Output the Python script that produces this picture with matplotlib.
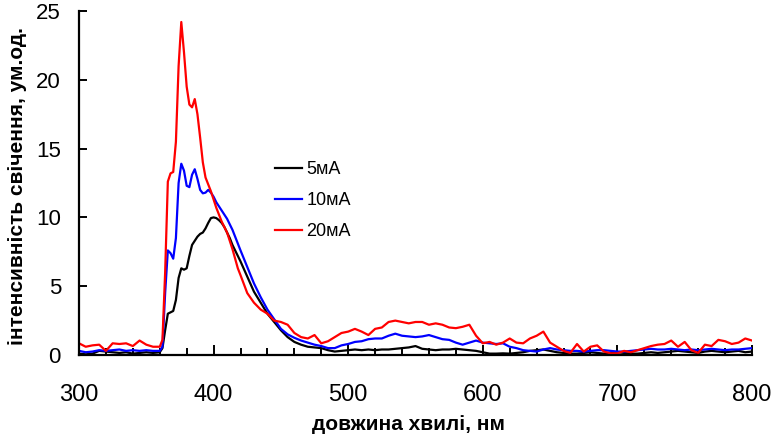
import matplotlib
matplotlib.use("Agg")
import matplotlib.pyplot as plt
from matplotlib import font_manager

# ---------------- data ----------------
wavelength = [300, 305, 310, 315, 320, 325, 330, 335, 340, 345, 350, 355,
              360, 362, 364, 366, 368, 370, 372, 374, 376, 378, 380, 382, 384, 386, 388,
              390, 392, 394, 396, 398, 400, 402, 404, 406, 408, 410, 412, 414, 416, 418,
              420, 425, 430, 435, 440, 445, 450, 455, 460, 465, 470, 475, 480, 485, 490,
              495, 500, 505, 510, 515, 520, 525, 530, 535, 540, 545, 550, 555, 560, 565,
              570, 575, 580, 585, 590, 595, 600, 605, 610, 615, 620, 625, 630, 635, 640,
              645, 650, 655, 660, 665, 670, 675, 680, 685, 690, 695, 700, 705, 710, 715,
              720, 725, 730, 735, 740, 745, 750, 755, 760, 765, 770, 775, 780, 785, 790,
              795, 800]

i_5mA = [0.10, 0.05, 0.10, 0.30, 0.25, 0.20, 0.15, 0.20, 0.10, 0.15, 0.20, 0.15,
         0.20, 0.50, 1.80, 3.00, 3.10, 3.20, 4.00, 5.60, 6.30, 6.20, 6.30, 7.20, 8.00, 8.30, 8.60,
         8.80, 8.90, 9.20, 9.60, 9.95, 10.00, 9.95, 9.80, 9.60, 9.30, 8.90, 8.50, 8.00, 7.60, 7.20,
         6.80, 5.70, 4.60, 3.80, 3.00, 2.40, 1.80, 1.30, 0.95, 0.75, 0.60, 0.55, 0.50, 0.35, 0.25,
         0.30, 0.35, 0.40, 0.35, 0.40, 0.35, 0.40, 0.40, 0.45, 0.50, 0.55, 0.65, 0.45, 0.40, 0.35,
         0.40, 0.40, 0.45, 0.40, 0.35, 0.30, 0.20, 0.10, 0.10, 0.12, 0.10, 0.15, 0.20, 0.30, 0.35,
         0.40, 0.30, 0.20, 0.15, 0.10, 0.10, 0.15, 0.20, 0.15, 0.10, 0.15, 0.20, 0.15, 0.10, 0.10,
         0.15, 0.20, 0.15, 0.20, 0.25, 0.30, 0.25, 0.20, 0.15, 0.25, 0.30, 0.25, 0.20, 0.25, 0.30,
         0.20, 0.25]

i_10mA = [0.30, 0.20, 0.25, 0.35, 0.30, 0.35, 0.40, 0.30, 0.35, 0.30, 0.35, 0.30,
          0.30, 0.60, 4.50, 7.60, 7.40, 7.00, 8.50, 12.50, 13.90, 13.40, 12.30, 12.20, 13.10, 13.50, 12.80,
          12.00, 11.75, 11.80, 12.00, 11.80, 11.50, 11.10, 10.80, 10.50, 10.20, 9.90, 9.50, 9.10, 8.60, 8.10,
          7.60, 6.40, 5.20, 4.20, 3.30, 2.60, 1.90, 1.50, 1.25, 1.05, 0.90, 0.75, 0.65, 0.50, 0.50,
          0.70, 0.80, 0.95, 1.00, 1.15, 1.20, 1.20, 1.40, 1.55, 1.40, 1.35, 1.30, 1.35, 1.45, 1.30,
          1.15, 1.10, 0.90, 0.75, 0.90, 1.05, 0.90, 0.85, 0.80, 0.85, 0.60, 0.50, 0.35, 0.30, 0.25,
          0.40, 0.50, 0.40, 0.35, 0.30, 0.30, 0.25, 0.30, 0.35, 0.35, 0.30, 0.25, 0.25, 0.30, 0.35,
          0.40, 0.45, 0.40, 0.40, 0.45, 0.40, 0.35, 0.40, 0.35, 0.40, 0.45, 0.40, 0.35, 0.40, 0.40,
          0.45, 0.50]

i_20mA = [0.85, 0.60, 0.70, 0.75, 0.30, 0.85, 0.80, 0.85, 0.65, 1.05, 0.75, 0.60,
          0.60, 1.10, 6.00, 12.60, 13.20, 13.30, 15.50, 21.00, 24.20, 22.00, 19.50, 18.20, 18.00, 18.60, 17.50,
          15.80, 14.00, 12.90, 12.40, 11.90, 11.30, 10.70, 10.20, 9.70, 9.30, 8.90, 8.30, 7.70, 7.00, 6.30,
          5.80, 4.50, 3.80, 3.30, 3.00, 2.50, 2.40, 2.20, 1.60, 1.30, 1.20, 1.45, 0.85, 1.00, 1.30,
          1.60, 1.70, 1.90, 1.70, 1.45, 1.90, 2.00, 2.40, 2.50, 2.40, 2.30, 2.40, 2.40, 2.20, 2.30,
          2.20, 2.00, 1.95, 2.05, 2.20, 1.40, 0.85, 0.95, 0.75, 0.90, 1.20, 0.90, 0.85, 1.20, 1.40,
          1.70, 0.90, 0.60, 0.30, 0.15, 0.80, 0.25, 0.60, 0.70, 0.25, 0.12, 0.12, 0.30, 0.20, 0.35,
          0.50, 0.65, 0.75, 0.80, 1.05, 0.60, 0.95, 0.35, 0.15, 0.75, 0.65, 1.10, 1.00, 0.80, 0.90,
          1.20, 1.05]

series_labels = ["5мА", "10мА", "20мА"]
series_colors = ["#000000", "#0000ff", "#ff0000"]
x_ticks = [300, 400, 500, 600, 700, 800]
y_ticks = [0, 5, 10, 15, 20, 25]
x_label = "довжина хвилі, нм"
y_label = "інтенсивність свічення, ум.од."

# ---------------- fonts ----------------
installed = {f.name for f in font_manager.fontManager.ttflist}
base_font = "Liberation Sans" if "Liberation Sans" in installed else "DejaVu Sans"
if "Liberation Sans Narrow" in installed:
    label_font, label_size = "Liberation Sans Narrow", 17.5
else:
    label_font, label_size = base_font, 15
plt.rcParams["font.family"] = [base_font, "DejaVu Sans"]

# ---------------- figure ----------------
fig = plt.figure(figsize=(7.72, 4.38), dpi=100)
ax = fig.add_axes([79 / 772, 1 - 355 / 438, 673 / 772, 344 / 438])

for vals, lab, col in zip([i_5mA, i_10mA, i_20mA], series_labels, series_colors):
    ax.plot(wavelength, vals, color=col, lw=1.6, label=lab, solid_joinstyle="round")

ax.set_xlim(300, 800)
ax.set_ylim(0, 25)
ax.set_xticks(x_ticks)
ax.set_xticks(list(range(300, 801, 20)), minor=True)
ax.set_yticks(y_ticks)

for s in ("top", "right"):
    ax.spines[s].set_visible(False)
for s in ("left", "bottom"):
    ax.spines[s].set_linewidth(1.6)

ax.tick_params(axis="x", which="major", direction="in", length=7, width=1.4,
               labelsize=17, pad=21)
ax.tick_params(axis="x", which="minor", direction="in", length=5, width=1.4)
ax.tick_params(axis="y", which="major", direction="in", length=6, width=1.4,
               labelsize=16, pad=13)

ax.set_xlabel(x_label, family=[label_font, "DejaVu Sans"], fontsize=label_size,
              fontweight="bold", va="top")
ax.xaxis.set_label_coords((408 - 79) / 673, (355 - 415) / 344)
ax.set_ylabel(y_label, family=[label_font, "DejaVu Sans"], fontsize=label_size,
              fontweight="bold")
ax.yaxis.set_label_coords((27 - 79) / 673, 0.49)

leg = ax.legend(loc="upper left", bbox_to_anchor=(275 / 772, 1 - 161 / 438),
                bbox_transform=fig.transFigure, frameon=False, fontsize=13,
                handlelength=1.5, handletextpad=0.25, labelspacing=0.78,
                borderpad=0, borderaxespad=0)

fig.savefig("out.png", dpi=100)
